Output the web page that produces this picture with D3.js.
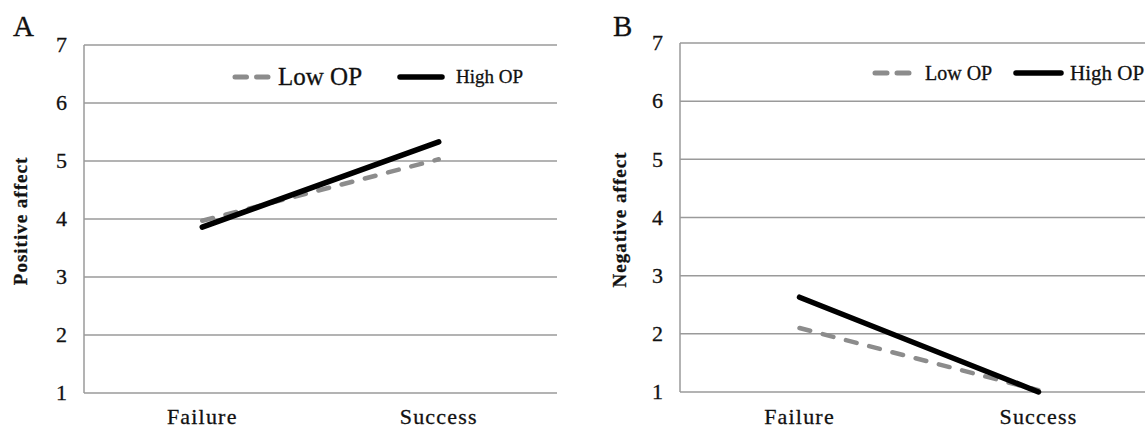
<!DOCTYPE html>
<html><head><meta charset="utf-8">
<script src="https://cdn.jsdelivr.net/npm/d3@7"></script>
<style>body{margin:0;background:#fff}svg{display:block}text{font-family:"Liberation Serif","Times New Roman",serif;fill:#111;stroke:#111;stroke-width:0.3}</style>
</head><body><svg id="c" width="1145" height="428"></svg>
<script>
const categories = ["Failure", "Success"];
const yTicks = [1, 2, 3, 4, 5, 6, 7];
const seriesNames = ["Low OP", "High OP"];
const posLow = [3.97, 5.03];
const posHigh = [3.86, 5.33];
const negLow = [2.10, 1.03];
const negHigh = [2.63, 1.00];

const svg = d3.select("#c");
const panels = [
  {letter:"A", ylabel:"Positive affect", low:posLow, high:posHigh,
   x0:84, x1:557, y0:393, y1:45, letterX:13, ylabX:27, tickX:67,
   leg:{y:77, d0:233, d1:272, t0:278, lowSize:25, s0:398, s1:444, t1:456, highSize:19}},
  {letter:"B", ylabel:"Negative affect", low:negLow, high:negHigh,
   x0:680, x1:1158, y0:392, y1:43, letterX:613, ylabX:626, tickX:663,
   leg:{y:73, d0:873, d1:913, t0:925, lowSize:20, s0:1014, s1:1063, t1:1070, highSize:21}}
];

panels.forEach(p => {
  const g = svg.append("g");
  const x = d3.scaleBand().domain(categories).range([p.x0, p.x1]);
  const y = d3.scaleLinear().domain([1, 7]).range([p.y0, p.y1]);
  g.selectAll("line.grid").data(yTicks).join("line")
    .attr("x1", p.x0).attr("x2", p.x1)
    .attr("y1", d => y(d)).attr("y2", d => y(d))
    .attr("stroke", "#9a9a9a").attr("stroke-width", 1.5);
  g.append("line").attr("x1", p.x0).attr("x2", p.x0).attr("y1", y(1)).attr("y2", y(7))
    .attr("stroke", "#9a9a9a").attr("stroke-width", 1.5);
  g.selectAll("text.yt").data(yTicks).join("text")
    .attr("x", p.tickX).attr("y", d => y(d)).attr("dy", "0.33em")
    .attr("text-anchor", "end").attr("font-size", 22).text(d => d);
  g.selectAll("text.xt").data(categories).join("text")
    .attr("x", d => x(d) + x.bandwidth()/2).attr("y", 424)
    .attr("text-anchor", "middle").attr("font-size", 22).attr("letter-spacing", 1.2).text(d => d);
  g.append("text").attr("transform", `translate(${p.ylabX},${(p.y0+p.y1)/2 + 2}) rotate(-90)`)
    .attr("text-anchor", "middle").attr("font-size", 19).attr("letter-spacing", 1)
    .attr("font-weight", "bold").text(p.ylabel);
  g.append("text").attr("x", p.letterX).attr("y", 36).attr("font-size", 29).text(p.letter);
  const line = d3.line().x((d, i) => x(categories[i]) + x.bandwidth()/2).y(d => y(d));
  g.append("path").attr("d", line(p.low)).attr("fill", "none").attr("stroke", "#8c8c8c")
    .attr("stroke-width", 4.5).attr("stroke-dasharray", "11,13").attr("stroke-linecap", "round");
  g.append("path").attr("d", line(p.high)).attr("fill", "none").attr("stroke", "#000")
    .attr("stroke-width", 5.5).attr("stroke-linecap", "round");
  const L = p.leg;
  const dl = L.d1 - L.d0;
  g.append("line").attr("x1", L.d0+2).attr("x2", L.d1-2).attr("y1", L.y).attr("y2", L.y)
    .attr("stroke", "#8c8c8c").attr("stroke-width", 5).attr("stroke-linecap", "round")
    .attr("stroke-dasharray", `${dl/2-8},10`);
  g.append("text").attr("x", L.t0).attr("y", L.y).attr("dy", "0.33em").attr("font-size", L.lowSize).text(seriesNames[0]);
  g.append("line").attr("x1", L.s0+2).attr("x2", L.s1-2).attr("y1", L.y).attr("y2", L.y)
    .attr("stroke", "#000").attr("stroke-width", 5.5).attr("stroke-linecap", "round");
  g.append("text").attr("x", L.t1).attr("y", L.y).attr("dy", "0.33em").attr("font-size", L.highSize).text(seriesNames[1]);
});
</script></body></html>
